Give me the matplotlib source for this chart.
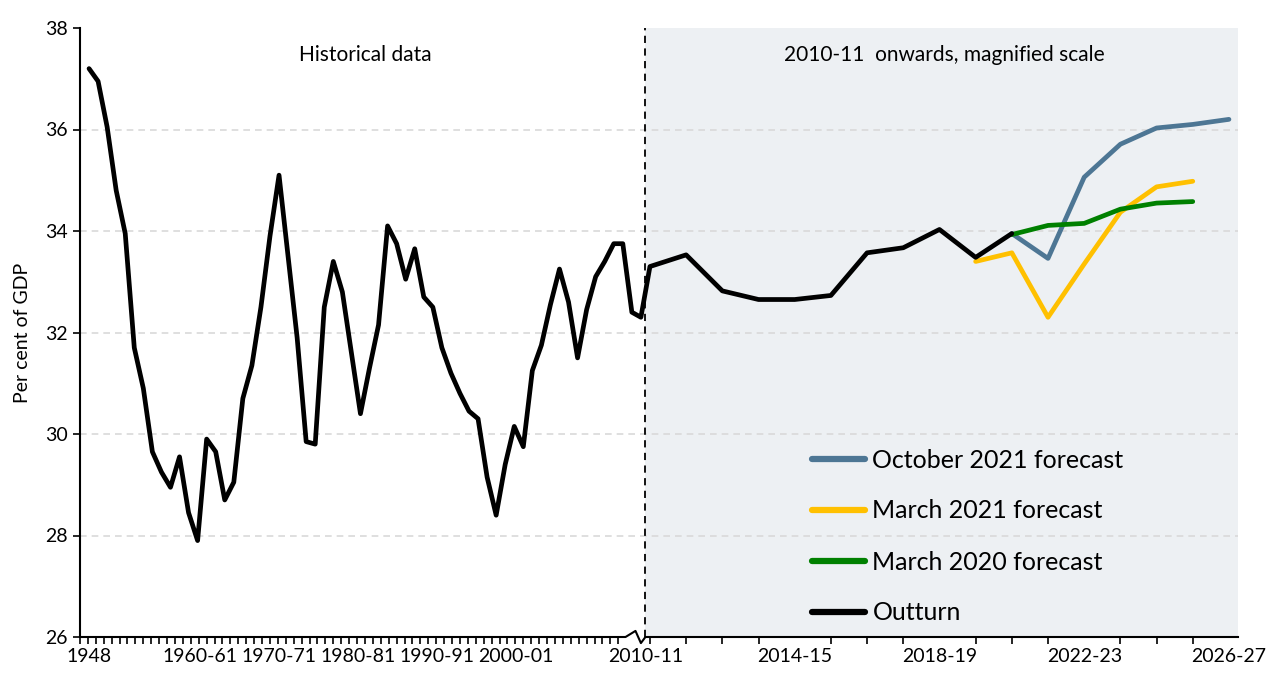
import numpy as np
import matplotlib
matplotlib.use('Agg')
import matplotlib.pyplot as plt
from matplotlib.lines import Line2D

plt.rcParams['font.family'] = ['Lato', 'DejaVu Sans']

# historical outturn, 1948-49 to 2009-10 (one point per year, compressed scale)
hist_vals = [37.2, 36.95, 36.05, 34.8, 33.95, 31.7, 30.9, 29.65, 29.25, 28.95,
             29.55, 28.45, 27.9, 29.9, 29.65, 28.7, 29.05, 30.7, 31.35, 32.5,
             33.9, 35.1, 33.5, 31.9, 29.85, 29.8, 32.5, 33.4, 32.8, 31.6,
             30.4, 31.3, 32.15, 34.1, 33.75, 33.05, 33.65, 32.7, 32.5, 31.7,
             31.2, 30.8, 30.45, 30.3, 29.15, 28.4, 29.4, 30.15, 29.75, 31.25,
             31.75, 32.55, 33.25, 32.6, 31.5, 32.45, 33.1, 33.4, 33.75, 33.75,
             32.4, 32.3]
# magnified scale, 2010-11 onwards (index 0 = 2010-11)
outturn_recent = [33.3, 33.53, 32.82, 32.65, 32.65, 32.73, 33.57, 33.67, 34.03, 33.48, 33.95]
oct21 = [33.95, 33.46, 35.06, 35.71, 36.03, 36.1, 36.2]     # 2020-21 .. 2026-27
mar21 = [33.4, 33.57, 32.3, 33.35, 34.37, 34.87, 34.98]     # 2019-20 .. 2025-26
mar20 = [33.93, 34.11, 34.15, 34.43, 34.55, 34.58]          # 2020-21 .. 2025-26

tick_labels = ['1948', '1960-61', '1970-71', '1980-81', '1990-91', '2000-01',
               '2010-11', '2014-15', '2018-19', '2022-23', '2026-27']
tick_pos = [0, 12.3, 21.0, 29.7, 38.5, 47.2, 61.5, 78, 94, 110, 126]

# x scale: 1 unit per historical year, 4 units per year from 2010-11
n_hist = len(hist_vals)
def mag_x(k):
    return n_hist + 4 * np.asarray(k)

x_out = np.concatenate([np.arange(n_hist), mag_x(np.arange(len(outturn_recent)))])
y_out = hist_vals + outturn_recent

c_blue = '#4D7694'
c_yellow = '#FFC000'
c_green = '#008000'

fig = plt.figure(figsize=(12.74, 6.75), dpi=100)
ax = fig.add_axes([80/1274, 38/675, (1238-80)/1274, (637-28)/675])
ax.set_xlim(-1, 127)
ax.set_ylim(26, 38)

ax.axvspan(61.5, 127, color='#EDF0F3', zorder=0, lw=0)
for yv in [28, 30, 32, 34, 36]:
    ax.axhline(yv, color='#D9D9D9', lw=1.2, ls=(0, (4, 3)), zorder=1)
ax.axvline(61.5, color='black', lw=1.3, ls=(0, (4, 3)), zorder=2)

lw = 3.4
ax.plot(mag_x(np.arange(10, 10 + len(oct21))), oct21, color=c_blue, lw=lw,
        solid_joinstyle='round', solid_capstyle='round', zorder=3)
ax.plot(mag_x(np.arange(9, 9 + len(mar21))), mar21, color=c_yellow, lw=lw,
        solid_joinstyle='round', solid_capstyle='round', zorder=4)
ax.plot(mag_x(np.arange(10, 10 + len(mar20))), mar20, color=c_green, lw=lw,
        solid_joinstyle='round', solid_capstyle='round', zorder=5)
ax.plot(x_out, y_out, color='black', lw=lw,
        solid_joinstyle='round', solid_capstyle='round', zorder=6)

ax.text(30.5, 37.47, 'Historical data', ha='center', va='center', fontsize=15)
ax.text(94.5, 37.47, '2010-11  onwards, magnified scale', ha='center', va='center', fontsize=15)

# axes
for s in ['top', 'right', 'bottom']:
    ax.spines[s].set_visible(False)
ax.spines['left'].set_linewidth(1.5)
trans = ax.get_xaxis_transform()
ax.plot([-1, 59.3, 60.4, 61.0, 61.5, 127], [0, 0, 0.01, -0.01, 0, 0],
        color='black', lw=1.5, transform=trans, clip_on=False, zorder=7)

ax.set_yticks([26, 28, 30, 32, 34, 36, 38])
ax.tick_params(axis='y', direction='out', length=5, width=1.2, labelsize=14, pad=4)
ax.set_xticks(tick_pos)
ax.set_xticklabels(tick_labels)
ax.tick_params(axis='x', which='major', length=0, labelsize=14, pad=8)
minor = list(np.arange(-1, 59.3, 0.875)) + list(mag_x(np.arange(0, 17)))
ax.set_xticks(minor, minor=True)
ax.tick_params(axis='x', which='minor', direction='out', length=5, width=1.2)
ax.set_ylabel('Per cent of GDP', fontsize=14, labelpad=10)

handles = [Line2D([], [], color=c_blue, lw=4.5, solid_capstyle='round'),
           Line2D([], [], color=c_yellow, lw=4.5, solid_capstyle='round'),
           Line2D([], [], color=c_green, lw=4.5, solid_capstyle='round'),
           Line2D([], [], color='black', lw=4.5, solid_capstyle='round')]
labels = ['October 2021 forecast', 'March 2021 forecast', 'March 2020 forecast', 'Outturn']
fig.legend(handles, labels, loc='upper left', bbox_to_anchor=(790/1274, 1 - 426/675),
           frameon=False, fontsize=18, handlelength=2.1, handletextpad=0.3,
           labelspacing=1.12)

fig.savefig('out.png', dpi=100)
